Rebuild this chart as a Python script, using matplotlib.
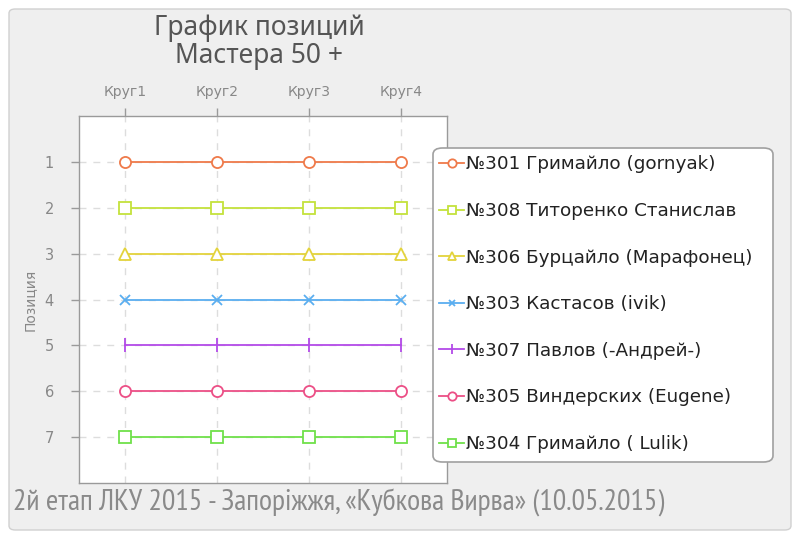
import matplotlib
matplotlib.use("Agg")
import matplotlib.pyplot as plt
from matplotlib.patches import FancyBboxPatch

rounds = ["Круг1", "Круг2", "Круг3", "Круг4"]
names = ["№301 Гримайло (gornyak)", "№308 Титоренко Станислав",
         "№306 Бурцайло (Марафонец)", "№303 Кастасов (ivik)",
         "№307 Павлов (-Андрей-)", "№305 Виндерских (Eugene)",
         "№304 Гримайло ( Lulik)"]
positions = [
    [1, 1, 1, 1],
    [2, 2, 2, 2],
    [3, 3, 3, 3],
    [4, 4, 4, 4],
    [5, 5, 5, 5],
    [6, 6, 6, 6],
    [7, 7, 7, 7],
]
colors = ["#ef7a4a", "#c4e23c", "#e3d33c", "#5aaef0", "#b34ae8", "#ec4f86", "#6fe04a"]
markers = ["o", "s", "^", "x", "|", "o", "s"]
title = "График позиций\nМастера 50 +"
footer = "2й етап ЛКУ 2015 - Запоріжжя, «Кубкова Вирва» (10.05.2015)"

W, H = 794, 534
fig = plt.figure(figsize=(W/100, H/100), dpi=100, facecolor="white")

def fx(x): return x / W
def fy(y): return 1 - y / H

panel = FancyBboxPatch((fx(9), fy(530)), fx(782), 521/H,
                       boxstyle="round,pad=0,rounding_size=0.008",
                       transform=fig.transFigure, facecolor="#efefef",
                       edgecolor="#d0d0d0", linewidth=1.0, zorder=-5)
fig.patches.append(panel)

ax = fig.add_axes([fx(79), fy(483), fx(447) - fx(79), fy(116) - fy(483)])
ax.set_zorder(2)
ax.set_facecolor("white")
for s in ax.spines.values():
    s.set_color("#9a9a9a")
    s.set_linewidth(1.0)

xs = list(range(1, len(rounds) + 1))
handles = []
for name, pos, c, m in zip(names, positions, colors, markers):
    ms = {"o": 8, "s": 8.5, "^": 8, "x": 6.5, "|": 10}[m]
    h, = ax.plot(xs, pos, color=c, lw=1.3, marker=m, markersize=ms,
                 markerfacecolor="white", markeredgecolor=c, markeredgewidth=1.3,
                 label=name, zorder=3)
    handles.append(h)

ax.set_xlim(0.5, 4.5)
ax.set_ylim(8, 0)
ax.set_xticks(xs)
ax.set_xticklabels(rounds)
ax.set_yticks(range(1, 8))
ax.xaxis.tick_top()
ax.tick_params(axis="x", colors="#9a9a9a", labelcolor="#888888", labelsize=10,
               length=6, width=1, pad=6)
ax.tick_params(axis="y", colors="#9a9a9a", labelcolor="#888888", labelsize=10.5,
               length=6, width=1, pad=12)
ax.grid(True, color="#dddddd", linestyle=(0, (5, 5)), linewidth=1.0, zorder=1)
ax.set_axisbelow(True)
ax.set_ylabel("Позиция", color="#888888", fontsize=10, labelpad=6)

fig.text(fx(259), fy(42), title, ha="center", va="center", fontsize=19,
         color="#555555", linespacing=1.0, family="Noto Sans")

fig.text(fx(13), fy(503), footer, ha="left", va="center", fontsize=21.5,
         color="#8a8a8a", family=["PT Sans Narrow", "DejaVu Sans"])

# legend frame (rounded box)
lframe = FancyBboxPatch((fx(433), fy(462)), fx(773) - fx(433), fy(148) - fy(462),
                        boxstyle="round,pad=0,rounding_size=0.012",
                        transform=fig.transFigure, facecolor="white",
                        edgecolor="#a0a0a0", linewidth=1.2, zorder=9, clip_on=False)
ax.add_artist(lframe)

leg = ax.legend(handles=handles, loc="upper left",
                bbox_to_anchor=(fx(433), fy(149)), bbox_transform=fig.transFigure,
                borderaxespad=0, fontsize=13.2, frameon=False,
                handlelength=1.35, handletextpad=0.1, labelspacing=1.56,
                borderpad=0.35, markerscale=0.75)
leg.set_zorder(10)
for t in leg.get_texts():
    t.set_color("#222222")

fig.savefig("out.png", dpi=100, facecolor="white")
